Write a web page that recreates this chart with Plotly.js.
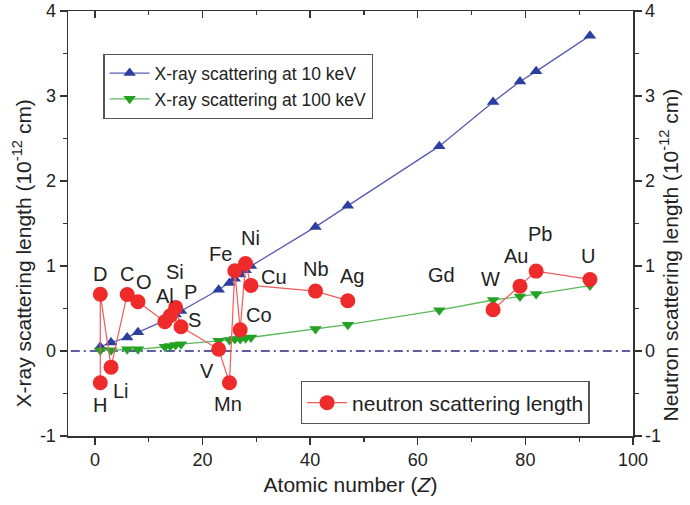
<!DOCTYPE html>
<html>
<head>
<meta charset="utf-8">
<script src="https://cdn.plot.ly/plotly-3.0.1.min.js"></script>
<style>
  html, body { margin: 0; padding: 0; background: #fff; }
  #chart { width: 690px; height: 505px; }
</style>
</head>
<body>
<div id="chart"></div>
<script>
// ---- data ----
const xrayZ = [1, 3, 6, 8, 13, 14, 15, 16, 23, 25, 26, 27, 28, 29, 41, 47, 64, 74, 79, 82, 92];
const xray10keV = [0.05, 0.10, 0.16, 0.22, 0.36, 0.39, 0.43, 0.47, 0.72, 0.80, 0.85, 0.90, 0.95, 1.00, 1.46, 1.71, 2.41, 2.93, 3.17, 3.29, 3.71];
const xray100keV = [0.01, 0.01, 0.02, 0.02, 0.05, 0.06, 0.07, 0.08, 0.12, 0.13, 0.14, 0.14, 0.15, 0.16, 0.26, 0.31, 0.48, 0.60, 0.64, 0.67, 0.77];

const elements = ['H', 'D', 'Li', 'C', 'O', 'Al', 'Si', 'P', 'S', 'V', 'Mn', 'Fe', 'Co', 'Ni', 'Cu', 'Nb', 'Ag', 'Gd', 'W', 'Au', 'Pb', 'U'];
const neutronZ = [1, 1, 3, 6, 8, 13, 14, 15, 16, 23, 25, 26, 27, 28, 29, 41, 47, 64, 74, 79, 82, 92];
const neutronLength = [-0.374, 0.667, -0.19, 0.665, 0.58, 0.345, 0.415, 0.513, 0.285, 0.02, -0.373, 0.945, 0.249, 1.03, 0.772, 0.705, 0.592, null, 0.486, 0.763, 0.94, 0.842];

// label anchor positions (data coordinates) for each element name
const labelZ = [1.0, 1.0, 4.9, 6.0, 9.1, 13.0, 14.9, 17.8, 18.5, 20.8, 24.8, 23.4, 30.5, 29.0, 33.2, 41.1, 47.8, 64.4, 73.5, 78.3, 82.8, 91.7];
const labelV = [-0.63, 0.91, -0.47, 0.91, 0.81, 0.65, 0.93, 0.69, 0.37, -0.23, -0.62, 1.14, 0.42, 1.33, 0.87, 0.96, 0.88, 0.90, 0.85, 1.12, 1.38, 1.12];

const xTicks = [0, 20, 40, 60, 80, 100];
const xTickText = ['0', '20', '40', '60', '80', '100'];
const yTicks = [-1, 0, 1, 2, 3, 4];
const yTickText = ['-1', '0', '1', '2', '3', '4'];

// ---- styling ----
const FONT = '"Liberation Sans", Arial, sans-serif';
const TXT = '#222222';
const AX = '#333333';

const traces = [
  {
    x: xrayZ, y: xray10keV, type: 'scatter', mode: 'lines+markers',
    name: 'X-ray scattering at 10 keV', legend: 'legend',
    line: { color: '#5a5ab4', width: 1.3 },
    marker: { symbol: 'triangle-up', size: 11, color: '#2b3fa0' },
    xaxis: 'x', yaxis: 'y'
  },
  {
    x: xrayZ, y: xray100keV, type: 'scatter', mode: 'lines+markers',
    name: 'X-ray scattering at 100 keV', legend: 'legend',
    line: { color: '#5cb85c', width: 1.3 },
    marker: { symbol: 'triangle-down', size: 11, color: '#25a125' },
    xaxis: 'x', yaxis: 'y'
  },
  {
    x: neutronZ, y: neutronLength, type: 'scatter', mode: 'lines+markers',
    name: 'neutron scattering length', legend: 'legend2',
    connectgaps: false,
    line: { color: '#f05a5a', width: 1.2 },
    marker: { symbol: 'circle', size: 15, color: '#ee2a2a' },
    xaxis: 'x2', yaxis: 'y2'
  }
];

const annotations = elements.map((el, i) => ({
  x: labelZ[i], y: labelV[i], xref: 'x', yref: 'y',
  text: el, showarrow: false,
  font: { family: FONT, size: 20, color: TXT }
}));

// axis titles (placed as rotated annotations to match the reference's vertical position)
annotations.push({
  xref: 'paper', yref: 'paper', x: -0.081, y: 0.43, xanchor: 'center', yanchor: 'middle',
  textangle: -90, showarrow: false,
  text: 'X-ray scattering length (10<sup>-12</sup> cm)',
  font: { family: FONT, size: 21, color: TXT }
});
annotations.push({
  xref: 'paper', yref: 'paper', x: 1.064, y: 0.425, xanchor: 'center', yanchor: 'middle',
  textangle: -90, showarrow: false,
  text: 'Neutron scattering length (10<sup>-12</sup> cm)',
  font: { family: FONT, size: 21, color: TXT }
});

const xRange = [-5, 100];
const yRange = [-1, 4];

const layout = {
  width: 690, height: 505,
  margin: { l: 68, r: 57, t: 11, b: 69 },
  paper_bgcolor: '#ffffff', plot_bgcolor: '#ffffff',
  font: { family: FONT, color: TXT, size: 18 },
  showlegend: true,
  xaxis: {
    range: xRange, tickvals: xTicks, ticktext: xTickText, ticks: 'outside', ticklen: 7, tickwidth: 1.3, tickcolor: AX,
    minor: { dtick: 10, ticks: 'outside', ticklen: 4, tickwidth: 1.3, tickcolor: AX },
    showline: true, linecolor: AX, linewidth: 1.5, showgrid: false, zeroline: false,
    tickfont: { family: FONT, size: 18, color: TXT },
    title: { text: 'Atomic number (<i>Z</i>)', font: { family: FONT, size: 21, color: TXT }, standoff: 8 }
  },
  xaxis2: {
    overlaying: 'x', side: 'top', range: xRange, tickvals: xTicks, ticks: 'inside', ticklen: 7, tickwidth: 1.3, tickcolor: AX,
    minor: { dtick: 10, ticks: 'inside', ticklen: 4, tickwidth: 1.3, tickcolor: AX },
    showticklabels: false, showline: true, linecolor: AX, linewidth: 1.5, showgrid: false, zeroline: false
  },
  yaxis: {
    range: yRange, tickvals: yTicks, ticktext: yTickText, ticks: 'outside', ticklen: 7, tickwidth: 1.3, tickcolor: AX,
    minor: { dtick: 0.5, ticks: 'outside', ticklen: 4, tickwidth: 1.3, tickcolor: AX },
    showline: true, linecolor: AX, linewidth: 1.5, showgrid: false, zeroline: false,
    tickfont: { family: FONT, size: 18, color: TXT }
  },
  yaxis2: {
    overlaying: 'y', side: 'right', range: yRange, tickvals: yTicks, ticktext: yTickText, ticks: 'outside', ticklen: 7, tickwidth: 1.3, tickcolor: AX,
    minor: { dtick: 0.5, ticks: 'outside', ticklen: 4, tickwidth: 1.3, tickcolor: AX },
    showline: true, linecolor: AX, linewidth: 1.5, showgrid: false, zeroline: false,
    tickfont: { family: FONT, size: 18, color: TXT }
  },
  legend: {
    x: 0.0625, y: 0.899, xanchor: 'left', yanchor: 'top',
    bgcolor: '#ffffff', bordercolor: '#555555', borderwidth: 1.3,
    font: { family: FONT, size: 17.5, color: TXT }, tracegroupgap: 0, itemwidth: 40
  },
  legend2: {
    x: 0.412, y: 0.129, xanchor: 'left', yanchor: 'top',
    bgcolor: '#ffffff', bordercolor: '#555555', borderwidth: 1.3,
    font: { family: FONT, size: 21, color: TXT }, itemwidth: 40
  },
  shapes: [
    {
      type: 'line', xref: 'paper', yref: 'y', x0: 0.005, x1: 0.995, y0: 0, y1: 0,
      line: { color: '#2a2a80', width: 1.3, dash: '9px,4px,2px,4px' }, layer: 'below'
    }
  ],
  annotations: annotations
};

Plotly.newPlot('chart', traces, layout, { displayModeBar: false, staticPlot: true });
</script>
</body>
</html>
